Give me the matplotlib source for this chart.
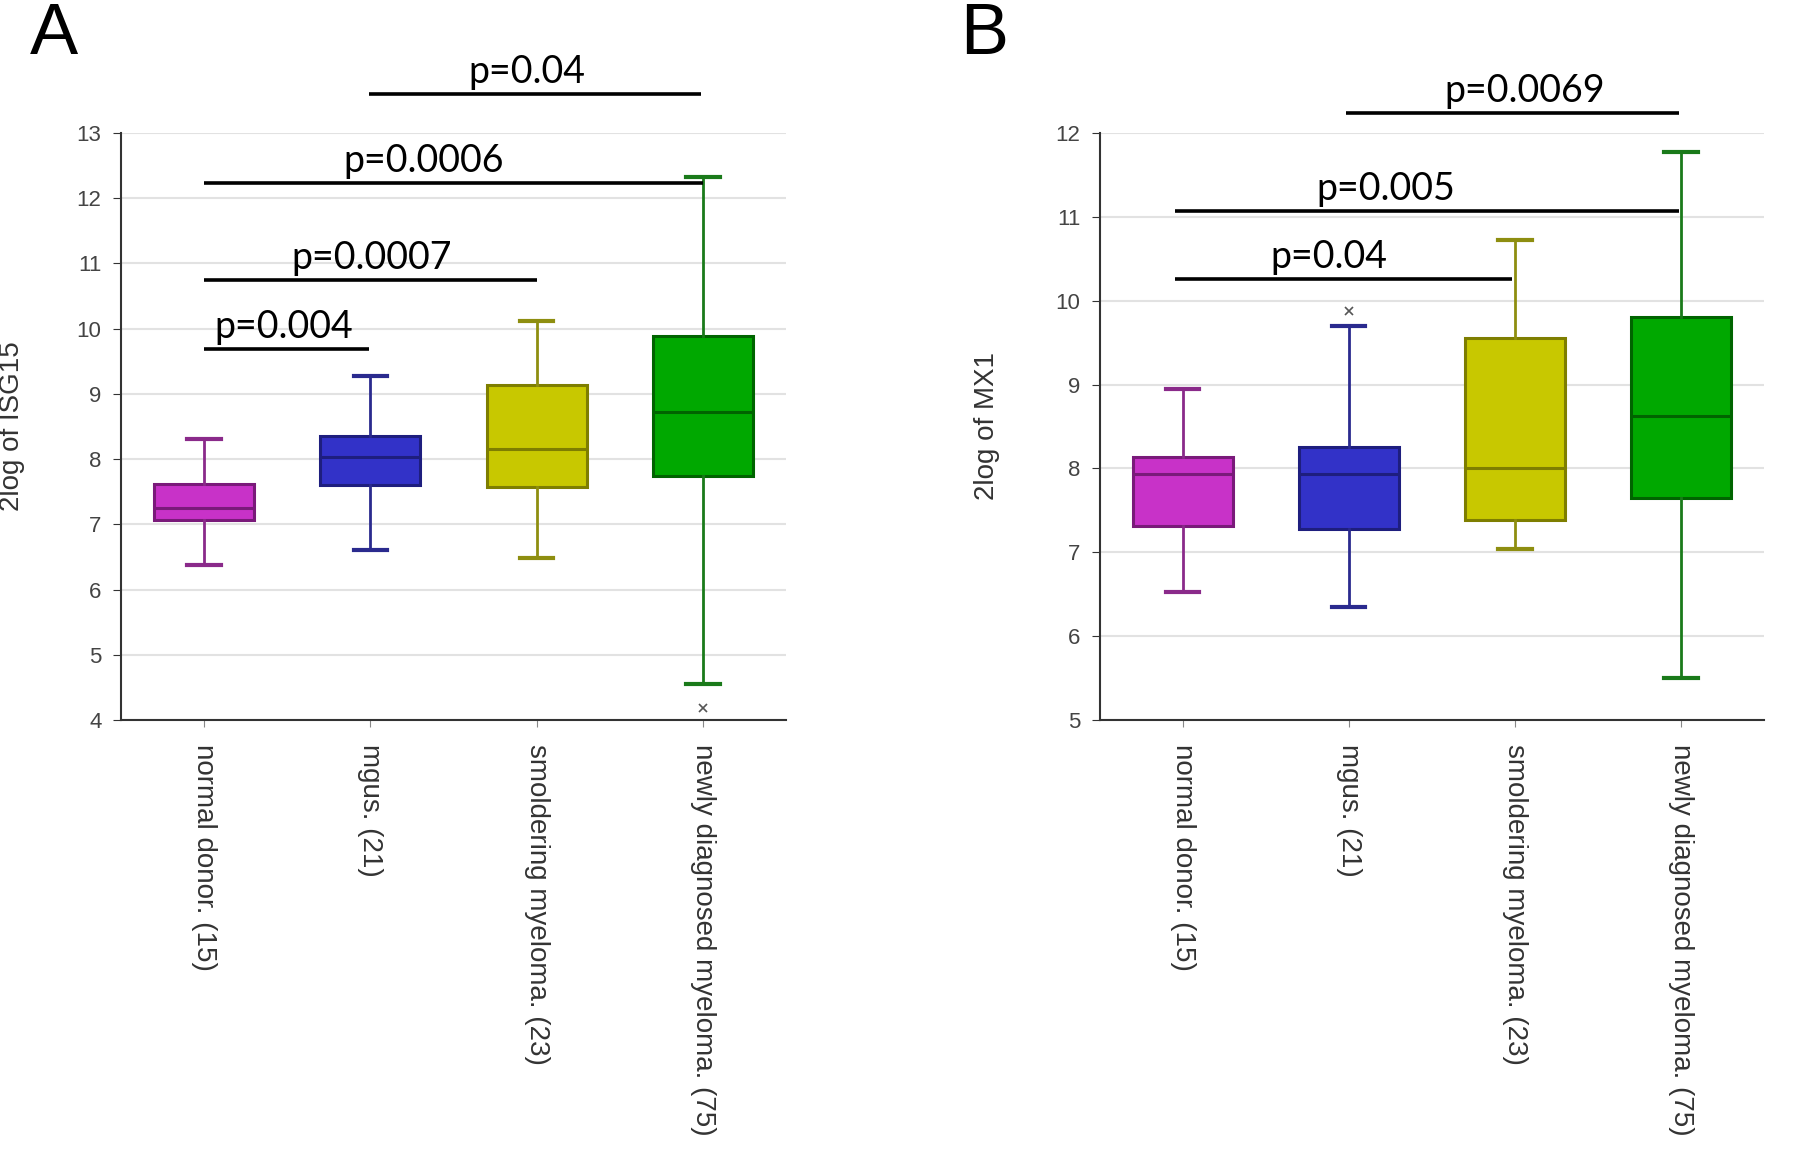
import matplotlib.pyplot as plt
import numpy as np

# categories
groups = ["normal donor. (15)", "mgus. (21)", "smoldering myeloma. (23)",
          "newly diagnosed myeloma. (75)"]

# panel A: ISG15 box stats
isg15_whislo = [6.37, 6.61, 6.49, 4.55]
isg15_q1 = [7.07, 7.60, 7.57, 7.74]
isg15_med = [7.25, 8.03, 8.16, 8.72]
isg15_q3 = [7.61, 8.36, 9.14, 9.88]
isg15_whishi = [8.31, 9.27, 10.11, 12.33]
isg15_fliers = [[], [], [], [4.19]]

# panel B: MX1 box stats
mx1_whislo = [6.53, 6.35, 7.04, 5.50]
mx1_q1 = [7.31, 7.28, 7.39, 7.65]
mx1_med = [7.93, 7.93, 8.00, 8.62]
mx1_q3 = [8.13, 8.26, 9.56, 9.80]
mx1_whishi = [8.95, 9.70, 10.72, 11.77]
mx1_fliers = [[], [9.88], [], []]

# significance bars: x start, x end, y, label, text x
isg15_sig_x0 = [0.99, 0.0, 0.0, 0.0]
isg15_sig_x1 = [2.99, 3.0, 2.0, 0.99]
isg15_sig_y = [13.59, 12.23, 10.75, 9.68]
isg15_sig_text = ["p=0.04", "p=0.0006", "p=0.0007", "p=0.004"]
isg15_sig_tx = [1.94, 1.32, 1.01, 0.48]

mx1_sig_x0 = [0.98, -0.05, -0.05]
mx1_sig_x1 = [2.99, 2.99, 1.98]
mx1_sig_y = [12.24, 11.07, 10.26]
mx1_sig_text = ["p=0.0069", "p=0.005", "p=0.04"]
mx1_sig_tx = [2.06, 1.22, 0.88]

fills = ["#c832c8", "#3232c8", "#c8c800", "#00a800"]
edges = ["#7a1a7a", "#1e1e7e", "#7e7e00", "#006400"]
whisk = ["#8a2a8a", "#2a2a8e", "#8e8e10", "#1a7a1a"]


def draw_panel(ax, whislo, q1, med, q3, whishi, fliers, ylim, ylabel,
               sx0, sx1, sy, stext, stx):
    stats = []
    for i in range(len(groups)):
        stats.append(dict(whislo=whislo[i], q1=q1[i], med=med[i], q3=q3[i],
                          whishi=whishi[i], fliers=fliers[i]))
    pos = np.arange(len(groups))
    art = ax.bxp(stats, positions=pos, widths=0.6, patch_artist=True,
                 capwidths=0.2, showfliers=True)
    for i in range(len(groups)):
        art["boxes"][i].set(facecolor=fills[i], edgecolor=edges[i], linewidth=2.2)
        art["medians"][i].set(color=edges[i], linewidth=2.2)
        for w in art["whiskers"][2 * i:2 * i + 2]:
            w.set(color=whisk[i], linewidth=2.0)
        for c in art["caps"][2 * i:2 * i + 2]:
            c.set(color=whisk[i], linewidth=3.0)
        art["fliers"][i].set(marker="x", markersize=6, markeredgecolor="#555555",
                             markeredgewidth=1.2)

    ax.set_xlim(-0.5, 3.5)
    ax.set_ylim(*ylim)
    ax.set_yticks(np.arange(ylim[0], ylim[1] + 1))
    ax.grid(axis="y", color="#e2e2e2", linewidth=1.5)
    ax.set_axisbelow(True)
    for s in ["top", "right"]:
        ax.spines[s].set_visible(False)
    for s in ["left", "bottom"]:
        ax.spines[s].set_color("#333333")
        ax.spines[s].set_linewidth(1.5)
    ax.set_xticks(pos)
    ax.set_xticklabels(groups, rotation=270, ha="center", va="top",
                       fontsize=20, color="#333333", family="Liberation Sans")
    ax.tick_params(axis="x", length=5, color="#888888", pad=12)
    ax.tick_params(axis="y", length=6, color="#333333", labelsize=16,
                   labelcolor="#444444", pad=8)
    for lab in ax.get_yticklabels():
        lab.set_family("Liberation Sans")
    ax.set_ylabel(ylabel, fontsize=20, color="#333333", family="Liberation Sans")

    for x0, x1, y, t, tx in zip(sx0, sx1, sy, stext, stx):
        ax.plot([x0, x1], [y, y], color="black", linewidth=2.6, clip_on=False,
                solid_capstyle="butt")
        ax.annotate(t, (tx, y), xytext=(0, 8), textcoords="offset points",
                    ha="center", va="baseline", fontsize=27, family="Lato",
                    annotation_clip=False)


fig = plt.figure(figsize=(18, 11.51), dpi=100)
axA = fig.add_axes([0.0672, 0.3745, 0.3695, 0.51])
axB = fig.add_axes([0.611, 0.3745, 0.369, 0.51])

draw_panel(axA, isg15_whislo, isg15_q1, isg15_med, isg15_q3, isg15_whishi,
           isg15_fliers, (4, 13), "2log of ISG15",
           isg15_sig_x0, isg15_sig_x1, isg15_sig_y, isg15_sig_text, isg15_sig_tx)
draw_panel(axB, mx1_whislo, mx1_q1, mx1_med, mx1_q3, mx1_whishi,
           mx1_fliers, (5, 12), "2log of MX1",
           mx1_sig_x0, mx1_sig_x1, mx1_sig_y, mx1_sig_text, mx1_sig_tx)
axA.yaxis.set_label_coords(-0.145, 0.5)
axB.yaxis.set_label_coords(-0.150, 0.5)

fig.text(0.0165, 0.998, "A", fontsize=52, va="top", ha="left",
         family="Liberation Sans")
fig.text(0.5335, 0.998, "B", fontsize=52, va="top", ha="left",
         family="Liberation Sans")

fig.savefig("out.png", dpi=100)
